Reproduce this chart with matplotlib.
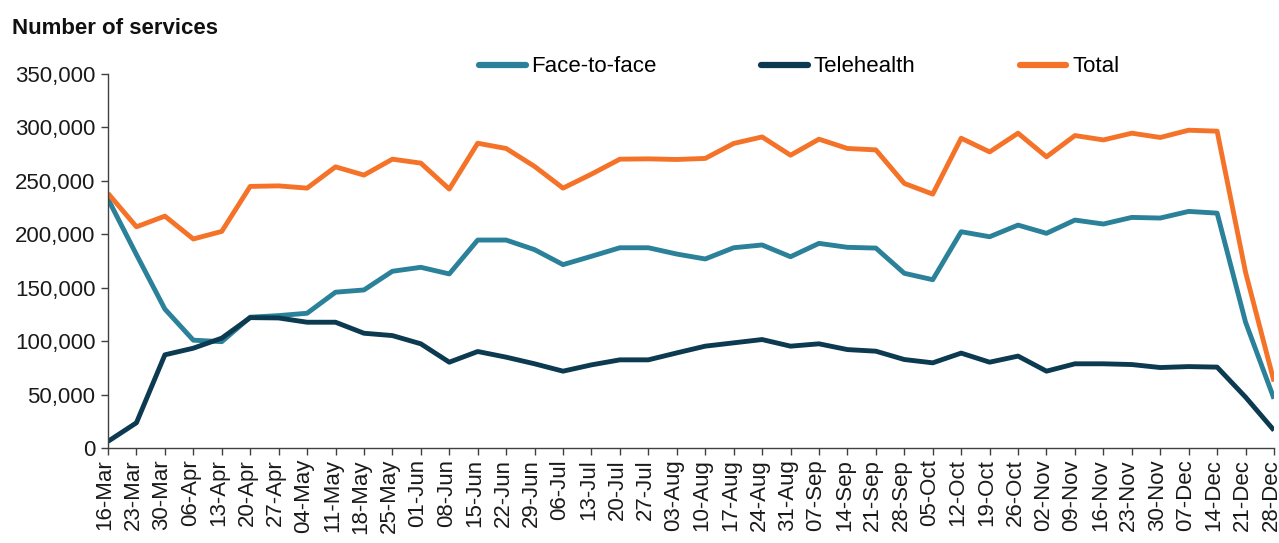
import matplotlib
matplotlib.use("Agg")
import matplotlib.pyplot as plt
from matplotlib.ticker import FuncFormatter, MultipleLocator
from matplotlib.transforms import ScaledTranslation

plt.rcParams['font.family'] = ['Liberation Sans', 'DejaVu Sans']

weeks = ["16-Mar", "23-Mar", "30-Mar", "06-Apr", "13-Apr", "20-Apr", "27-Apr",
         "04-May", "11-May", "18-May", "25-May", "01-Jun", "08-Jun", "15-Jun",
         "22-Jun", "29-Jun", "06-Jul", "13-Jul", "20-Jul", "27-Jul", "03-Aug",
         "10-Aug", "17-Aug", "24-Aug", "31-Aug", "07-Sep", "14-Sep", "21-Sep",
         "28-Sep", "05-Oct", "12-Oct", "19-Oct", "26-Oct", "02-Nov", "09-Nov",
         "16-Nov", "23-Nov", "30-Nov", "07-Dec", "14-Dec", "21-Dec", "28-Dec"]

face_to_face = [233000, 181000, 130000, 100900, 99500, 122400, 123900, 126100,
                145800, 147900, 165400, 169100, 162900, 194600, 194600, 185600,
                171600, 179400, 187400, 187400, 181500, 176900, 187400, 190000,
                179000, 191500, 187800, 187100, 163500, 157500, 202400, 197700,
                208600, 200900, 213300, 209600, 215800, 215200, 221400, 219800,
                117700, 46100]

telehealth = [6200, 23600, 87200, 93400, 102800, 122000, 121700, 117700,
              117700, 107400, 105200, 97500, 80300, 90300, 85000, 78800,
              71900, 77800, 82500, 82500, 89000, 95300, 98400, 101500,
              95300, 97500, 92100, 90600, 82800, 79700, 88800, 80300,
              86000, 71900, 78800, 78800, 78100, 75300, 76200, 75700,
              47600, 16500]

total = [238300, 207000, 217000, 195600, 202700, 244800, 245300, 243200,
         263100, 255400, 270300, 266600, 242300, 285200, 280300, 263500,
         243200, 256300, 270300, 270600, 270000, 271000, 285000, 291100,
         274000, 289000, 280300, 279000, 247600, 237600, 289900, 277100,
         294600, 272500, 292400, 288300, 294600, 290600, 297400, 296500,
         164400, 62200]

series = [
    ("Face-to-face", face_to_face, "#2a8199"),
    ("Telehealth", telehealth, "#0c3a50"),
    ("Total", total, "#f47328"),
]

FS = 16

fig = plt.figure(figsize=(12.79, 5.43), dpi=100)
ax = fig.add_axes([108 / 1279, 95 / 543, 1166 / 1279, 374 / 543])

x = list(range(len(weeks)))
for name, values, color in series:
    ax.plot(x, values, color=color, lw=3.5, label=name,
            solid_joinstyle="round", solid_capstyle="butt")

ax.set_xlim(0, len(weeks) - 1)
ax.set_ylim(0, 350000)
ax.yaxis.set_major_locator(MultipleLocator(50000))
ax.yaxis.set_major_formatter(FuncFormatter(lambda v, p: f"{int(v):,}"))
ax.set_xticks(x)
ax.set_xticklabels(weeks, rotation=90)

for side in ("top", "right"):
    ax.spines[side].set_visible(False)
for side in ("left", "bottom"):
    ax.spines[side].set_color("#404040")
    ax.spines[side].set_linewidth(1.0)

ax.tick_params(axis="both", direction="out", length=5, width=1.0,
               color="#404040", labelsize=FS, labelcolor="#1a1a1a")
ax.tick_params(axis="y", pad=4)
ax.tick_params(axis="x", pad=3)

# nudge the rotated date labels slightly left of their ticks
shift = ScaledTranslation(-3 / 100, 0, fig.dpi_scale_trans)
for lab in ax.get_xticklabels():
    lab.set_transform(lab.get_transform() + shift)

fig.text(12 / 1279, 1 - 29 / 543, "Number of services", fontsize=FS,
         fontweight="bold", ha="left", va="center", color="#111111")

leg = ax.legend(loc="center left", bbox_to_anchor=(372 / 1168, 1.0 + 7 / 374),
                ncol=3, frameon=False, fontsize=FS, handlelength=2.1,
                handletextpad=0.25, columnspacing=4.7, borderaxespad=0,
                borderpad=0)
for line in leg.get_lines():
    line.set_linewidth(4.5)
    line.set_solid_capstyle("round")

fig.savefig("out.png", dpi=100)
